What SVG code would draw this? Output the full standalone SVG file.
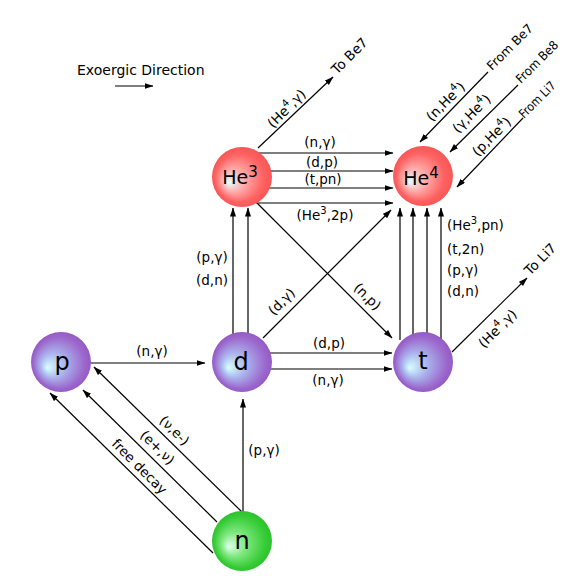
<svg xmlns="http://www.w3.org/2000/svg" width="564" height="576" viewBox="0 0 564 576">
  <style>
    .ln { stroke: #000; stroke-width: 1.2; fill: none; marker-end: url(#ah); }
    .lbl { font-family: "DejaVu Sans", "Liberation Sans", sans-serif; font-size: 13.5px; fill: #000; }
    .mid { text-anchor: middle; }
    .sup { font-size: 10px; }
    .nd { font-family: "DejaVu Sans", "Liberation Sans", sans-serif; font-size: 24px; fill: #000; text-anchor: middle; }
    .he { font-size: 19px; }
    .hesup { font-size: 15px; }
    .edge { font-size: 12.5px; }
  </style>
  <defs>
    <marker id="ah" markerUnits="userSpaceOnUse" markerWidth="9" markerHeight="7" refX="8.5" refY="3" orient="auto">
      <path d="M0,0 L9,3 L0,6 z" fill="#000"/>
    </marker>
    <radialGradient id="gRed" cx="0.5" cy="0.5" r="0.5" fx="0.27" fy="0.6">
      <stop offset="0" stop-color="#e4ffff"/>
      <stop offset="0.35" stop-color="#ffb0b0"/>
      <stop offset="0.8" stop-color="#ff6262"/>
      <stop offset="1" stop-color="#f65656"/>
    </radialGradient>
    <radialGradient id="gPur" cx="0.5" cy="0.5" r="0.5" fx="0.27" fy="0.6">
      <stop offset="0" stop-color="#d6ffff"/>
      <stop offset="0.4" stop-color="#abb6ee"/>
      <stop offset="0.85" stop-color="#9c68cd"/>
      <stop offset="1" stop-color="#945ac4"/>
    </radialGradient>
    <radialGradient id="gGrn" cx="0.5" cy="0.5" r="0.5" fx="0.27" fy="0.6">
      <stop offset="0" stop-color="#dcffee"/>
      <stop offset="0.4" stop-color="#80e880"/>
      <stop offset="0.85" stop-color="#36cc36"/>
      <stop offset="1" stop-color="#2ec22e"/>
    </radialGradient>
  </defs>

  <rect width="564" height="576" fill="#fff"/>

  <!-- legend -->
  <g id="legend">
    <text class="lbl" x="77" y="75" style="font-size:14px">Exoergic Direction</text>
    <line class="ln" x1="115" y1="86" x2="153" y2="86"/>
  </g>

  <!-- reaction arrows -->
  <g id="connectors">
    <!-- He3 -> He4 -->
    <line class="ln" x1="256" y1="153" x2="393" y2="153"/>
    <line class="ln" x1="256" y1="171" x2="393" y2="171"/>
    <line class="ln" x1="256" y1="188" x2="393" y2="188"/>
    <line class="ln" x1="256" y1="203" x2="393" y2="203"/>
    <!-- d -> He3 -->
    <line class="ln" x1="233" y1="340" x2="233" y2="208"/>
    <line class="ln" x1="248" y1="340" x2="248" y2="208"/>
    <!-- t -> He4 -->
    <line class="ln" x1="400" y1="340" x2="400" y2="208"/>
    <line class="ln" x1="413" y1="340" x2="413" y2="208"/>
    <line class="ln" x1="427" y1="340" x2="427" y2="208"/>
    <line class="ln" x1="441" y1="340" x2="441" y2="208"/>
    <!-- He3 -> t, d -> He4 -->
    <line class="ln" x1="257" y1="203" x2="392" y2="338"/>
    <line class="ln" x1="263" y1="338" x2="391" y2="210"/>
    <!-- d -> t -->
    <line class="ln" x1="268" y1="353" x2="392" y2="353"/>
    <line class="ln" x1="268" y1="369" x2="392" y2="369"/>
    <!-- p -> d -->
    <line class="ln" x1="90" y1="363" x2="205" y2="363"/>
    <!-- n -> d -->
    <line class="ln" x1="243" y1="515" x2="243" y2="399"/>
    <!-- n -> p -->
    <line class="ln" x1="242" y1="512" x2="94" y2="367"/>
    <line class="ln" x1="217" y1="522" x2="83" y2="390"/>
    <line class="ln" x1="213" y1="553" x2="50" y2="393"/>
    <!-- external -->
    <line class="ln" x1="258" y1="148" x2="333" y2="77"/>
    <line class="ln" x1="488" y1="72" x2="420" y2="142"/>
    <line class="ln" x1="518" y1="85" x2="450" y2="152"/>
    <line class="ln" x1="523" y1="118" x2="457" y2="187"/>
    <line class="ln" x1="452" y1="352" x2="527" y2="278"/>
  </g>

  <!-- reaction labels -->
  <g id="labels">
    <text class="lbl mid" x="320" y="147">(n,γ)</text>
    <text class="lbl mid" x="322" y="167">(d,p)</text>
    <text class="lbl mid" x="323" y="184">(t,pn)</text>
    <text class="lbl mid" x="325" y="220">(He<tspan class="sup" dy="-6">3</tspan><tspan dy="6">,2p)</tspan></text>

    <text class="lbl mid" x="212" y="262">(p,γ)</text>
    <text class="lbl mid" x="212" y="285">(d,n)</text>

    <text class="lbl" x="447" y="230">(He<tspan class="sup" dy="-6">3</tspan><tspan dy="6">,pn)</tspan></text>
    <text class="lbl" x="447" y="254">(t,2n)</text>
    <text class="lbl" x="447" y="275">(p,γ)</text>
    <text class="lbl" x="447" y="296">(d,n)</text>

    <text class="lbl mid" transform="translate(282,302) rotate(-45)" y="4">(d,γ)</text>
    <text class="lbl mid" transform="translate(367,297) rotate(45)" y="4">(n,p)</text>

    <text class="lbl mid" x="329" y="348">(d,p)</text>
    <text class="lbl mid" x="328" y="385">(n,γ)</text>
    <text class="lbl mid" x="152" y="356">(n,γ)</text>
    <text class="lbl mid" x="264" y="455">(p,γ)</text>

    <text class="lbl mid" transform="translate(174,431) rotate(45)" y="4">(ν,e-)</text>
    <text class="lbl mid" transform="translate(157,448) rotate(45)" y="4">(e+,ν)</text>
    <text class="lbl mid" transform="translate(139,467) rotate(45)" y="4">free decay</text>

    <text class="lbl mid" transform="translate(287,109) rotate(-45)" y="4">(He<tspan class="sup" dy="-6">4</tspan><tspan dy="6">,γ)</tspan></text>
    <text class="lbl" transform="translate(337,75) rotate(-45)">To Be7</text>

    <text class="lbl mid" transform="translate(446,102) rotate(-45)" y="4">(n,He<tspan class="sup" dy="-6">4</tspan><tspan dy="6">)</tspan></text>
    <text class="lbl mid" transform="translate(472,114) rotate(-45)" y="4">(γ,He<tspan class="sup" dy="-6">4</tspan><tspan dy="6">)</tspan></text>
    <text class="lbl mid" transform="translate(492,137) rotate(-45)" y="4">(p,He<tspan class="sup" dy="-6">4</tspan><tspan dy="6">)</tspan></text>
    <text class="lbl edge" transform="translate(492,71) rotate(-45)">From Be7</text>
    <text class="lbl edge" transform="translate(521,84) rotate(-45)" textLength="54" lengthAdjust="spacingAndGlyphs">From Be8</text>
    <text class="lbl edge" transform="translate(524,119) rotate(-45)" textLength="46" lengthAdjust="spacingAndGlyphs">From Li7</text>

    <text class="lbl mid" transform="translate(498,329) rotate(-45)" y="4">(He<tspan class="sup" dy="-6">4</tspan><tspan dy="6">,γ)</tspan></text>
    <text class="lbl" transform="translate(530,276) rotate(-45)">To Li7</text>
  </g>

  <!-- nuclei -->
  <g id="node-he3">
    <circle cx="242" cy="177" r="30" fill="url(#gRed)"/>
    <text class="nd he" x="240" y="184">He<tspan class="hesup" dy="-7">3</tspan></text>
  </g>
  <g id="node-he4">
    <circle cx="423" cy="176" r="30" fill="url(#gRed)"/>
    <text class="nd he" x="421" y="185">He<tspan class="hesup" dy="-7">4</tspan></text>
  </g>
  <g id="node-p">
    <circle cx="61" cy="362" r="30" fill="url(#gPur)"/>
    <text class="nd" x="62" y="370">p</text>
  </g>
  <g id="node-d">
    <circle cx="242" cy="362" r="30" fill="url(#gPur)"/>
    <text class="nd" x="241" y="370">d</text>
  </g>
  <g id="node-t">
    <circle cx="423" cy="362" r="30" fill="url(#gPur)"/>
    <text class="nd" x="423" y="369">t</text>
  </g>
  <g id="node-n">
    <circle cx="242" cy="541" r="30" fill="url(#gGrn)"/>
    <text class="nd" x="242" y="549">n</text>
  </g>
</svg>
